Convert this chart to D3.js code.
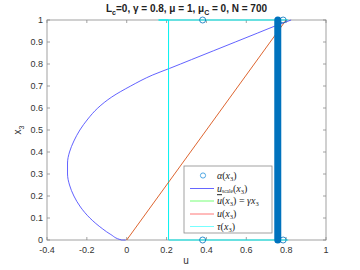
<!DOCTYPE html>
<html><head><meta charset="utf-8">
<script src="https://cdn.jsdelivr.net/npm/d3@7"></script>
<style>body{margin:0;background:#fff}svg{display:block}</style>
</head><body>
<svg id="c" width="360" height="270"></svg>
<script>
// ---- data ----
const xTicks = [-0.4, -0.2, 0, 0.2, 0.4, 0.6, 0.8, 1];
const yTicks = [0, 0.1, 0.2, 0.3, 0.4, 0.5, 0.6, 0.7, 0.8, 0.9, 1];
// u_scale(x3) curve (u, x3)
const uscaleU  = [-0.005, -0.025, -0.08, -0.12, -0.185, -0.232, -0.265, -0.287, -0.297, -0.297, -0.287, -0.265, -0.235, -0.195, -0.145, -0.075, 0.02, 0.13, 0.215, 0.325, 0.435, 0.545, 0.655, 0.765, 0.825];
const uscaleX3 = [0, 0, 0.025, 0.05, 0.1, 0.15, 0.2, 0.25, 0.3, 0.35, 0.4, 0.45, 0.5, 0.55, 0.6, 0.65, 0.7, 0.75, 0.78, 0.82, 0.86, 0.9, 0.94, 0.98, 1.0];
// u(x3) line
const uLineU  = [0, 0.8];
const uLineX3 = [0, 1];
// tau(x3)
const tauU  = [0.81, 0.21, 0.21, 0.16, 0.81];
const tauX3 = [0, 0, 1, 1, 1];
// alpha(x3) markers
const alphaU  = [0.381, 0.381, 0.785, 0.785];
const alphaX3 = [1, 0, 1, 0];
// dense alpha column (N = 700 markers overlapping)
const bandU = 0.758;
const bandX3 = [0, 1];

// ---- layout ----
const svg = d3.select('#c');
const L = 47, R = 326, T = 20, B = 240;
const x = d3.scaleLinear().domain([-0.4, 1]).range([L, R]);
const y = d3.scaleLinear().domain([0, 1]).range([B, T]);
const font = "'Liberation Sans', Arial, Helvetica, sans-serif";
const axCol = '#8a8a8a', txtCol = '#333';

svg.append('rect').attr('x', L).attr('y', T).attr('width', R - L).attr('height', B - T).attr('fill', '#fff');

const tl = 3;
const gAx = svg.append('g').attr('stroke', axCol).attr('stroke-width', 0.8).attr('fill', 'none');
xTicks.forEach(t => {
  gAx.append('line').attr('x1', x(t)).attr('x2', x(t)).attr('y1', B).attr('y2', B - tl);
  gAx.append('line').attr('x1', x(t)).attr('x2', x(t)).attr('y1', T).attr('y2', T + tl);
});
yTicks.forEach(t => {
  gAx.append('line').attr('x1', L).attr('x2', L + tl).attr('y1', y(t)).attr('y2', y(t));
  gAx.append('line').attr('x1', R).attr('x2', R - tl).attr('y1', y(t)).attr('y2', y(t));
});
gAx.append('rect').attr('x', L).attr('y', T).attr('width', R - L).attr('height', B - T);

xTicks.forEach(t => {
  svg.append('text').attr('x', x(t)).attr('y', 253).attr('text-anchor', 'middle')
    .attr('font-family', font).attr('font-size', 9).attr('fill', txtCol).text(String(t));
});
yTicks.forEach(t => {
  svg.append('text').attr('x', 43).attr('y', y(t) + 3.2).attr('text-anchor', 'end')
    .attr('font-family', font).attr('font-size', 9).attr('fill', txtCol).text(String(t));
});

const line = d3.line().x(d => x(d[0])).y(d => y(d[1]));

svg.append('path').datum(uscaleU.map((u, i) => [u, uscaleX3[i]]))
  .attr('d', d3.line().x(d => x(d[0])).y(d => y(d[1])).curve(d3.curveMonotoneY))
  .attr('fill', 'none').attr('stroke', '#3a3aff').attr('stroke-width', 0.8);

svg.append('path').datum(tauU.map((u, i) => [u, tauX3[i]]))
  .attr('d', line).attr('fill', 'none').attr('stroke', '#00f0f0').attr('stroke-width', 1);

svg.append('path').datum(uLineU.map((u, i) => [u, uLineX3[i]]))
  .attr('d', line).attr('fill', 'none').attr('stroke', '#D95319').attr('stroke-width', 0.9);

svg.append('line').attr('x1', x(bandU)).attr('x2', x(bandU))
  .attr('y1', y(bandX3[0])).attr('y2', y(bandX3[1]))
  .attr('stroke', '#0072BD').attr('stroke-width', 7).attr('stroke-linecap', 'round');

alphaU.forEach((u, i) => {
  svg.append('circle').attr('cx', x(u)).attr('cy', y(alphaX3[i])).attr('r', 3)
    .attr('fill', 'none').attr('stroke', '#0072BD').attr('stroke-width', 0.8);
});

// legend
const lg = svg.append('g');
lg.append('rect').attr('x', 184).attr('y', 166).attr('width', 88).attr('height', 67)
  .attr('fill', '#fff').attr('stroke', axCol).attr('stroke-width', 0.8);
const serif = "'Liberation Serif','DejaVu Serif',serif";
const rows = [175.5, 188.5, 201, 214, 226.5];
lg.append('circle').attr('cx', 203).attr('cy', rows[0]).attr('r', 2.6).attr('fill', 'none')
  .attr('stroke', '#3d9ee0').attr('stroke-width', 0.9);
const lcols = [null, '#6666ff', '#77ff77', '#ff7777', '#77ffff'];
for (let i = 1; i < 5; i++) {
  lg.append('line').attr('x1', 190).attr('x2', 214).attr('y1', rows[i]).attr('y2', rows[i])
    .attr('stroke', lcols[i]).attr('stroke-width', 1);
}
function ltext(i) {
  return lg.append('text').attr('x', 217).attr('y', rows[i] + 3.2).attr('font-family', serif)
    .attr('font-size', 10).attr('fill', '#222');
}
function x3(t) {
  t.append('tspan').attr('font-style', 'italic').text('x');
  t.append('tspan').attr('font-size', 6.5).attr('dy', 2).text('3');
}
let t0 = ltext(0); t0.append('tspan').attr('font-style', 'italic').text('α');
t0.append('tspan').text('('); x3(t0); t0.append('tspan').attr('dy', -2).text(')');

let t1 = ltext(1); t1.append('tspan').attr('font-style', 'italic').text('u');
t1.append('tspan').attr('font-size', 5.5).attr('dy', 1.5).text('scale');
t1.append('tspan').attr('dy', -1.5).text('(');
x3(t1); t1.append('tspan').attr('dy', -2).text(')');

let t2 = ltext(2); t2.append('tspan').attr('font-style', 'italic').attr('text-decoration', 'overline').text('u');
t2.append('tspan').text('(');
x3(t2); t2.append('tspan').attr('dy', -2).text(') = ');
t2.append('tspan').attr('font-style', 'italic').text('γ');
x3(t2);

let t3 = ltext(3); t3.append('tspan').attr('font-style', 'italic').text('u');
t3.append('tspan').text('('); x3(t3); t3.append('tspan').attr('dy', -2).text(')');

let t4 = ltext(4); t4.append('tspan').attr('font-style', 'italic').text('τ');
t4.append('tspan').text('('); x3(t4); t4.append('tspan').attr('dy', -2).text(')');

// title
const ti = svg.append('text').attr('x', 186.5).attr('y', 12).attr('text-anchor', 'middle')
  .attr('font-family', font).attr('font-size', 10).attr('font-weight', 'bold').attr('fill', '#222');
ti.append('tspan').text('L');
ti.append('tspan').attr('font-size', 7).attr('dy', 3).text('c');
ti.append('tspan').attr('dy', -3).text('=0, γ = 0.8, μ = 1, μ');
ti.append('tspan').attr('font-size', 7).attr('dy', 3).text('C');
ti.append('tspan').attr('dy', -3).text(' = 0, N = 700');

svg.append('text').attr('x', 186).attr('y', 264).attr('text-anchor', 'middle')
  .attr('font-family', font).attr('font-size', 10).attr('fill', txtCol).text('u');
const yl = svg.append('text').attr('transform', 'translate(21,130) rotate(-90)').attr('text-anchor', 'middle')
  .attr('font-family', font).attr('font-size', 10).attr('fill', txtCol);
yl.append('tspan').text('x');
yl.append('tspan').attr('font-size', 7).attr('dy', 3).text('3');
</script>
</body></html>
